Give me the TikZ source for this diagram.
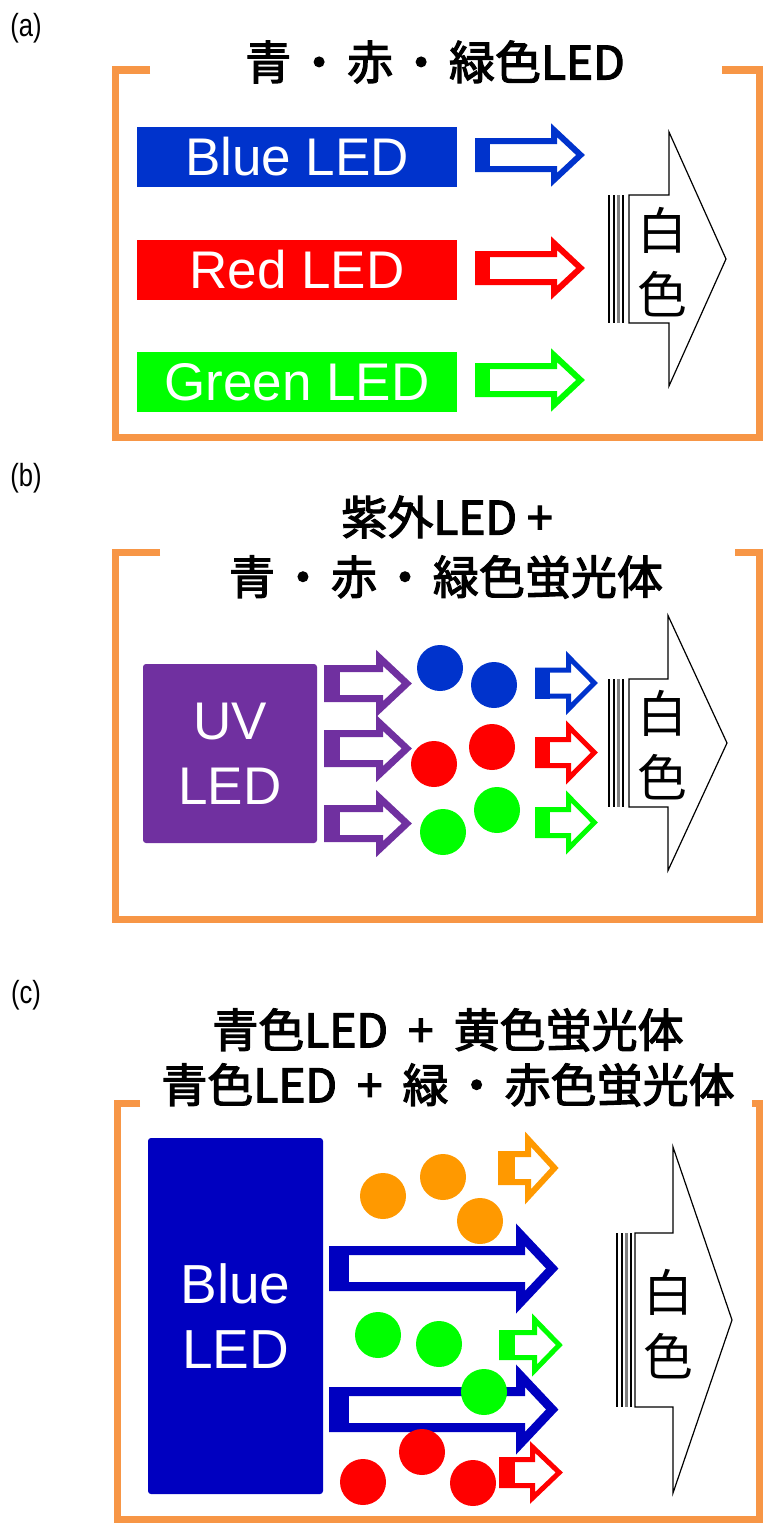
\documentclass[tikz,border=0pt]{standalone}
\usepackage{fontspec}
\setmainfont{Liberation Sans}
\newfontfamily\narrowsans[FakeStretch=0.8]{Liberation Sans}
\newfontfamily\jp{Noto Sans CJK JP}
\newfontfamily\jpb[FakeBold=2.6]{Noto Sans CJK JP}
\newcommand\jdot{\hspace{5pt}・\hspace{5pt}}
\newcommand\jplus{\hspace{20pt}+\hspace{20pt}}
\definecolor{frameor}{HTML}{F79646}
\definecolor{ledblue}{HTML}{0033CC}
\definecolor{ledred}{HTML}{FF0000}
\definecolor{ledgreen}{HTML}{00FF00}
\definecolor{uvpurple}{HTML}{7030A0}
\definecolor{dkblue}{HTML}{0000C0}
\definecolor{phorange}{HTML}{FF9900}
% colored hollow block arrow: #1 colour, #2 x0, #3 head x, #4 tip x, #5 yc, #6 shaft half, #7 head half, #8 line width, #9 left wall
\newcommand\barrow[9]{%
  \draw[#1, fill=white, line width=#8, line join=miter]
    (#2+#8/2,#5-#6+#8/2) -- (#3+#8/2,#5-#6+#8/2) -- (#3+#8/2,#5-#7+#8*1.2)
    -- (#4-#8*0.75,#5) -- (#3+#8/2,#5+#7-#8*1.2) -- (#3+#8/2,#5+#6-#8/2)
    -- (#2+#8/2,#5+#6-#8/2) -- cycle;
  \fill[#1] (#2,#5-#6) rectangle (#2+#9,#5+#6);
}
% white arrow with striped tail: #1 stripe x, #2 body x, #3 head x, #4 tip x, #5 yc, #6 shaft half, #7 head half
\newcommand\warrow[7]{%
  \draw[black, line width=1.2] (#1,#5-#6) -- (#1,#5+#6);
  \draw[black, line width=1.2] (#1+5,#5-#6) -- (#1+5,#5+#6);
  \draw[gray, line width=2.6] (#1+9.5,#5-#6) -- (#1+9.5,#5+#6);
  \draw[black, line width=1.2] (#1+14,#5-#6) -- (#1+14,#5+#6);
  \draw[black, fill=white, line width=1.2, line join=miter]
    (#2,#5-#6) -- (#3,#5-#6) -- (#3,#5-#7) -- (#4,#5) -- (#3,#5+#7)
    -- (#3,#5+#6) -- (#2,#5+#6) -- cycle;
}
\begin{document}
\begin{tikzpicture}[x=1pt,y=-1pt,
  frame/.style={draw=frameor, line width=7, line join=miter},
  title/.style={inner sep=0, font=\jpb\fontsize{46}{56}\selectfont, align=center},
  lab/.style={inner sep=0, font=\narrowsans\fontsize{32}{34}\selectfont},
  ledbox/.style={inner sep=0, text=white, font=\fontsize{53}{65}\selectfont, align=center},
  wtext/.style={inner sep=0, font=\jp\fontsize{50}{64}\selectfont, align=center},
  dot/.style={circle, inner sep=0, minimum size=46}]
\useasboundingbox (0,0) rectangle (765,1528);
\fill[white] (0,0) rectangle (765,1528);

% ---------------- (a) ----------------
\node[lab] (la) at (26,28) {(a)};
\draw[frame] (150,70) -| (115,437) -| (759,70) -- (722,70);
\node[title] (ta) at (435,62) {青\jdot 赤\jdot 緑色LED};
\node[ledbox, fill=ledblue, minimum width=320, minimum height=60] (blueA) at (297,157) {Blue LED};
\node[ledbox, fill=ledred, minimum width=320, minimum height=60] (redA) at (297,270) {Red LED};
\node[ledbox, fill=ledgreen, minimum width=320, minimum height=60] (greenA) at (297,382) {Green LED};
\barrow{ledblue}{475}{551}{585}{155}{17}{32}{6}{15}
\barrow{ledred}{475}{551}{585}{268}{17}{32}{6}{15}
\barrow{ledgreen}{475}{551}{585}{380}{17}{32}{6}{15}
\warrow{609}{629}{669}{726}{259}{64}{127}
\node[wtext] (wa) at (662,262) {白\\色};

% ---------------- (b) ----------------
\node[lab] (lb) at (26,478) {(b)};
\draw[frame] (160,552) -| (115,919) -| (759,552) -- (735,552);
\node[title] (tb1) at (447,517) {紫外LED\hspace{10pt}+};
\node[title] (tb2) at (446,577) {青\jdot 赤\jdot 緑色蛍光体};
\node[ledbox, fill=uvpurple, rounded corners=3, minimum width=174, minimum height=179] (uv) at (230,753.5) {UV\\LED};
\barrow{uvpurple}{324}{376}{412}{683.5}{18.5}{34}{7}{16}
\barrow{uvpurple}{324}{376}{412}{748.5}{18.5}{34}{7}{16}
\barrow{uvpurple}{324}{376}{412}{823.5}{18.5}{34}{7}{16}
\node[dot, fill=ledblue] (pb1) at (440,668) {};
\node[dot, fill=ledblue] (pb2) at (494,685) {};
\node[dot, fill=ledred] (pr1) at (434,764) {};
\node[dot, fill=ledred] (pr2) at (492,747) {};
\node[dot, fill=ledgreen] (pg1) at (443,832) {};
\node[dot, fill=ledgreen] (pg2) at (497,810) {};
\barrow{ledblue}{535}{566}{598}{683}{15.5}{32}{5}{15}
\barrow{ledred}{535}{566}{598}{752.5}{15.5}{32}{5}{15}
\barrow{ledgreen}{535}{566}{598}{822.5}{15.5}{32}{5}{15}
\warrow{609}{629}{668}{727}{743}{64}{127.5}
\node[wtext] (wb) at (662,745) {白\\色};

% ---------------- (c) ----------------
\node[lab] (lc) at (26,995) {(c)};
\draw[frame] (140,1103) -| (117,1519) -| (759,1103) -- (752,1103);
\node[title] (tc1) at (448,1030) {青色LED\jplus 黄色蛍光体};
\node[title] (tc2) at (448,1085) {青色LED\jplus 緑\jdot 赤色蛍光体};
\node[ledbox, fill=dkblue, rounded corners=3, minimum width=175, minimum height=356, font=\fontsize{55}{65}\selectfont] (bl) at (235.5,1316) {Blue\\LED};
\barrow{dkblue}{329}{516}{559}{1268.5}{22.5}{44.5}{9}{20}
\barrow{dkblue}{329}{516}{559}{1409.5}{22.5}{44.5}{9}{20}
\barrow{phorange}{498}{525}{559}{1168}{17}{36}{6}{17}
\barrow{ledgreen}{499}{532}{563}{1345}{15}{31.5}{5}{16}
\barrow{ledred}{499}{530}{563}{1472.5}{15.5}{31.5}{5}{16}
\node[dot, fill=phorange] (co1) at (383,1196) {};
\node[dot, fill=phorange] (co2) at (443,1177) {};
\node[dot, fill=phorange] (co3) at (480,1221) {};
\node[dot, fill=ledgreen] (cg1) at (378,1335) {};
\node[dot, fill=ledgreen] (cg2) at (439,1344) {};
\node[dot, fill=ledgreen] (cg3) at (484,1392) {};
\node[dot, fill=ledred] (cr1) at (363,1482) {};
\node[dot, fill=ledred] (cr2) at (422,1452) {};
\node[dot, fill=ledred] (cr3) at (473,1483) {};
\warrow{617}{635}{673}{732}{1320}{87}{173}
\node[wtext] (wc) at (668,1324) {白\\色};
\end{tikzpicture}
\end{document}
